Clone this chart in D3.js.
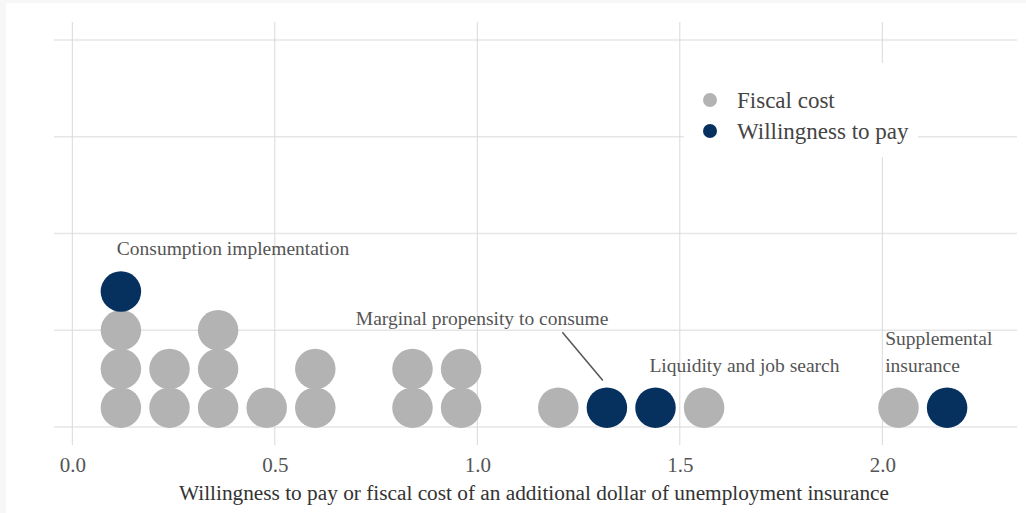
<!DOCTYPE html>
<html>
<head>
<meta charset="utf-8">
<script src="https://cdn.jsdelivr.net/npm/d3@7"></script>
<style>
  html, body { margin: 0; padding: 0; background: #f7f7f7; }
  svg { display: block; }
  text { font-family: "Liberation Serif", "Times New Roman", serif; }
</style>
</head>
<body>
<svg id="chart" width="1026" height="513"></svg>
<script>
// ---- data ----
const fiscalCostValues = [0.12, 0.12, 0.12, 0.24, 0.24, 0.36, 0.36, 0.36, 0.48, 0.60, 0.60, 0.84, 0.84, 0.96, 0.96, 1.20, 1.56, 2.04];
const willingnessValues = [0.12, 1.32, 1.44, 2.16];
const seriesNames = ["Fiscal cost", "Willingness to pay"];
const seriesColors = ["#b3b3b3", "#06315f"];
const xTickValues = [0.0, 0.5, 1.0, 1.5, 2.0];
const xTickLabels = ["0.0", "0.5", "1.0", "1.5", "2.0"];
const yGridValues = [0, 0.25, 0.5, 0.75, 1.0];
const annotations = [
  { lines: ["Consumption implementation"], x: 0.11, y: 0.445 },
  { lines: ["Marginal propensity to consume"], x: 0.70, y: 0.263 },
  { lines: ["Liquidity and job search"], x: 1.425, y: 0.142 },
  { lines: ["Supplemental", "insurance"], x: 2.007, y: 0.212 }
];
const xTitle = "Willingness to pay or fiscal cost of an additional dollar of unemployment insurance";

// ---- layout ----
const svg = d3.select("#chart");
const W = 1026, H = 513;
svg.append("rect").attr("x", 6).attr("y", 3).attr("width", W - 6).attr("height", H - 3).attr("fill", "#ffffff");

const panel = { left: 54, right: 1017, top: 22, bottom: 445 };
const x = d3.scaleLinear().domain([0, 2]).range([72.3, 882.3]);
const y = d3.scaleLinear().domain([0, 1]).range([427, 40]);
const stackStep = 0.1;          // one dot height in y units
const r = (x(0.1) - x(0)) / 2;  // dot radius

// gridlines
const g = svg.append("g");
g.selectAll("line.h").data(yGridValues).join("line")
  .attr("x1", panel.left).attr("x2", panel.right)
  .attr("y1", d => y(d)).attr("y2", d => y(d))
  .attr("stroke", "#e6e6e6").attr("stroke-width", 1.6);
g.selectAll("line.v").data(xTickValues).join("line")
  .attr("y1", panel.top).attr("y2", panel.bottom)
  .attr("x1", d => x(d)).attr("x2", d => x(d))
  .attr("stroke", "#d9d9d9").attr("stroke-width", 1);

// x axis tick labels (via d3 axis)
const xAxis = d3.axisBottom(x).tickValues(xTickValues).tickFormat((d, i) => xTickLabels[i]).tickSize(0).tickPadding(0);
const ax = svg.append("g").attr("transform", `translate(0,${panel.bottom + 12})`).call(xAxis);
ax.select(".domain").remove();
ax.selectAll("text").attr("font-family", "Liberation Serif, serif").attr("font-size", 21).attr("fill", "#555").attr("dy", "0.71em");

// axis title
svg.append("text").attr("x", 534).attr("y", 500)
  .attr("text-anchor", "middle").attr("font-size", 21.3).attr("fill", "#333").text(xTitle);

// build dot stacks: fiscal cost first, willingness stacked on top
const counts = new Map();
const dots = [];
[fiscalCostValues, willingnessValues].forEach((vals, si) => {
  vals.forEach(v => {
    const key = v.toFixed(2);
    const k = counts.get(key) || 0;
    counts.set(key, k + 1);
    dots.push({ value: v, level: k, series: si });
  });
});

// annotation texts (drawn before dots)
const ann = svg.append("g");
annotations.forEach(a => {
  const t = ann.append("text").attr("x", x(a.x)).attr("y", y(a.y))
    .attr("font-size", 19.5).attr("fill", "#555");
  a.lines.forEach((ln, i) => {
    t.append("tspan").attr("x", x(a.x)).attr("dy", i === 0 ? 0 : 27).text(ln);
  });
});
// leader line for MPC
ann.append("line")
  .attr("x1", x(1.21)).attr("y1", y(0.245))
  .attr("x2", x(1.31)).attr("y2", y(0.12))
  .attr("stroke", "#555").attr("stroke-width", 1.5);

svg.append("g").selectAll("circle").data(dots).join("circle")
  .attr("cx", d => x(d.value))
  .attr("cy", d => y((d.level + 0.5) * stackStep))
  .attr("r", r)
  .attr("fill", d => seriesColors[d.series]);

// legend
const lg = svg.append("g");
lg.append("rect").attr("x", 684).attr("y", 63).attr("width", 234).attr("height", 94).attr("fill", "#fff");
seriesNames.forEach((name, i) => {
  const cy = 100 + i * 31;
  lg.append("circle").attr("cx", 710).attr("cy", cy).attr("r", 7).attr("fill", seriesColors[i]);
  lg.append("text").attr("x", 737).attr("y", cy + 7.5).attr("font-size", 23).attr("fill", "#444").text(name);
});
</script>
</body>
</html>
